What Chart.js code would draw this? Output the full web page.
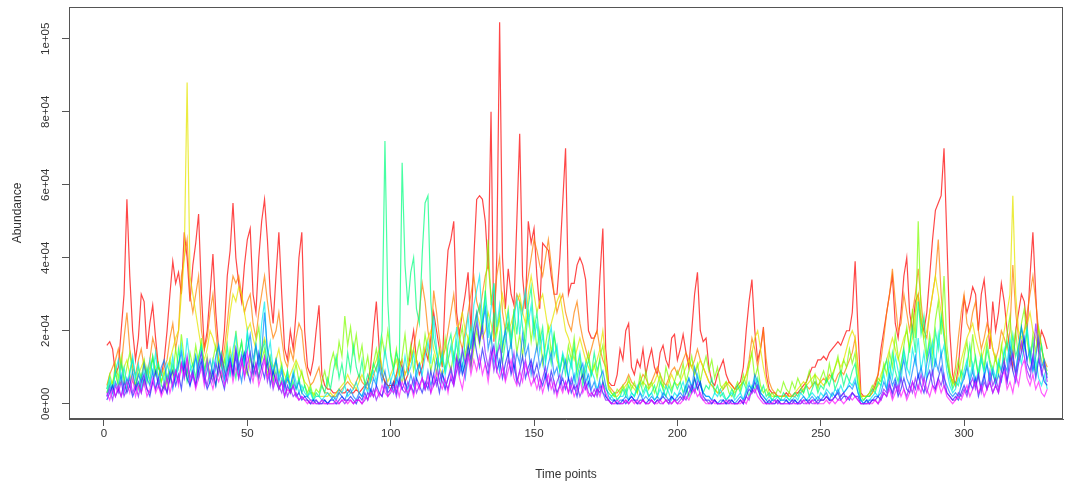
<!DOCTYPE html>
<html><head><meta charset="utf-8">
<style>html,body{margin:0;padding:0;background:#fff}#wrap{width:1073px;height:482px}</style>
<script src="https://cdn.jsdelivr.net/npm/chart.js@4.4.0/dist/chart.umd.min.js"></script>
</head><body><div id="wrap"><canvas id="c" width="1073" height="482"></canvas></div>
<script>
// Abundance values in thousands, time points 1..329
const xTickValues=[0,50,100,150,200,250,300];
const xTickLabels=['0','50','100','150','200','250','300'];
const yTickValues=[0,20,40,60,80,100];
const yTickLabels=['0e+00','2e+04','4e+04','6e+04','8e+04','1e+05'];
const xTitle='Time points';
const yTitle='Abundance';

const red=[
16,17,15,8,10,20,30,56,35,20, 12,18,30,28,15,22,27,18,10,8, 12,20,30,39,33,36,30,47,40,28,
38,44,52,30,15,20,30,41,25,15, 12,20,35,42,55,40,33,28,38,45, 48,30,25,40,50,56,45,30,22,35,
47,30,15,12,20,15,25,40,47,20, 10,8,12,20,27,8,5,4,4,3, 3,4,3,3,4,3,3,4,3,4,
5,6,10,20,28,15,8,6,5,5, 5,8,12,10,6,8,15,20,12,8, 10,15,12,18,25,20,15,10,30,42,
45,50,25,19,25,30,36,20,40,56, 57,56,50,37,80,17,40,104.5,40,26, 37,30,27,50,74,35,26,50,44,48,
35,26,44,43,42,35,30,30,40,55, 70,30,33,33,38,40,38,34,20,18, 18,20,35,48,15,6,5,5,8,15,
12,20,22,10,8,12,10,15,8,12, 15,10,8,14,16,12,10,18,19,12, 15,19,14,10,20,30,36,20,17,18,
10,6,5,8,10,12,8,6,5,4, 5,6,10,20,28,34,20,12,15,21, 8,4,3,3,2,2,2,3,2,2,
3,3,4,5,6,8,10,10,12,12, 13,12,14,15,16,17,16,18,20,20, 25,39,20,3,2,2,2,3,5,8,
15,20,25,30,35,22,18,25,35,40, 25,20,28,30,22,20,25,35,45,53, 55,57,70,45,20,8,5,10,20,29,
25,28,32,30,20,30,34,25,15,28, 20,25,33,28,20,15,10,20,25,30, 28,20,35,47,30,15,20,18,15];
const orange=[
5,8,10,12,15,10,18,25,15,10, 8,12,15,10,8,12,18,15,10,8, 10,12,18,22,15,20,35,40,45,30,
25,30,35,20,15,18,25,30,20,12, 10,15,22,30,35,33,35,30,25,28, 30,22,18,25,30,35,28,22,18,20,
25,18,12,10,15,12,18,22,20,12, 8,5,6,8,10,5,3,3,2,2, 2,3,4,5,6,5,4,6,8,6,
5,4,6,8,10,12,8,6,5,4, 6,8,10,12,8,10,12,15,20,25, 33,28,20,15,31,25,18,12,15,20,
25,30,22,18,15,20,25,30,35,28, 25,30,35,38,30,25,35,40,25,20, 22,18,25,30,28,25,30,35,40,45,
42,38,35,40,45,38,30,25,28,30, 25,22,20,25,28,22,18,15,12,15, 18,20,15,12,10,5,4,3,3,4,
5,6,8,6,5,4,6,8,7,5, 6,8,10,8,6,5,7,9,10,8, 10,12,14,12,10,12,15,12,10,8,
6,5,4,3,3,4,5,6,5,4, 4,5,6,8,12,18,15,10,15,20, 12,6,4,3,2,2,2,2,3,2,
2,3,3,4,5,4,5,6,5,6, 7,6,8,7,6,8,9,8,10,12, 14,18,10,2,2,2,3,4,6,8,
12,18,25,30,37,28,20,22,30,25, 20,25,30,37,28,20,18,25,30,35, 45,30,20,12,8,6,10,18,25,30,
22,20,25,28,20,15,18,22,20,15, 12,15,20,18,15,20,38,25,18,15, 20,25,30,35,28,20,15,12,10];
const yellow=[
3,5,6,8,5,6,10,12,8,6, 5,8,10,12,8,10,12,10,8,6, 8,10,12,15,18,20,30,40,88,35,
30,25,20,15,12,15,20,18,15,12, 10,12,18,25,30,28,32,30,25,20, 22,18,15,12,15,18,15,12,10,12,
15,10,8,6,8,10,12,10,8,6, 5,3,3,2,2,2,2,2,3,2, 3,4,5,6,8,6,5,4,6,8,
6,5,8,10,12,15,10,8,6,8, 10,12,8,6,8,10,12,15,12,10, 12,15,18,20,15,12,10,8,10,12,
15,18,20,22,25,20,18,15,20,25, 22,18,20,25,22,18,20,25,30,25, 20,22,25,28,30,25,22,30,35,30,
25,28,30,25,20,22,25,28,30,25, 20,18,15,12,15,18,15,12,10,8, 10,12,15,20,12,5,3,2,2,3,
4,5,6,5,4,3,5,6,5,4, 5,6,8,6,5,4,6,8,6,5, 6,8,10,12,10,8,10,12,10,8,
6,5,4,3,4,5,6,5,4,3, 4,5,6,8,10,14,18,20,15,10, 6,3,2,2,2,2,2,2,2,2,
3,4,5,6,5,6,7,8,7,6, 5,6,7,8,10,12,10,12,15,18, 20,18,10,2,2,2,2,3,4,5,
8,10,12,15,18,15,12,15,18,20, 15,18,25,30,22,18,20,25,30,35, 30,25,20,12,8,6,5,8,12,15,
18,20,22,18,15,12,15,18,20,15, 12,10,15,20,25,30,57,30,20,18, 20,22,25,20,18,15,12,10,8];
const chartreuse=[
4,8,5,11,7,13,6,10,14,8, 5,10,7,12,6,9,13,8,11,6, 9,5,12,8,15,10,19,12,8,14,
10,16,11,18,9,13,7,12,16,10, 7,12,9,15,11,20,13,17,10,8, 13,9,17,21,12,15,8,11,6,12,
8,11,5,9,4,7,11,6,9,5, 3,5,2,4,3,6,9,5,11,14, 10,17,13,24,16,21,14,19,12,16,
9,13,7,11,15,10,18,13,20,14, 10,15,8,13,19,11,16,9,13,17, 12,19,14,9,13,8,15,11,18,12,
9,14,11,17,21,13,18,10,15,20, 16,24,30,45,27,33,19,24,14,21, 26,17,22,14,19,13,21,25,17,23,
15,20,11,16,21,14,19,12,9,13, 10,16,12,18,9,13,7,11,14,8, 11,7,13,16,9,4,3,2,4,3,
5,3,7,4,6,3,8,5,9,4, 6,3,5,8,4,10,7,4,6,9, 7,11,6,9,13,8,11,6,10,13,
9,12,7,10,5,4,6,3,2,4, 6,4,8,5,11,14,7,10,5,3, 4,2,3,2,4,3,6,4,3,6,
4,7,5,3,6,9,5,8,4,7, 9,6,11,7,10,13,8,12,10,15, 11,14,6,2,1,2,3,5,4,7,
6,11,8,14,10,19,13,9,16,21, 14,26,18,50,24,17,12,19,14,23, 28,19,35,16,9,5,8,12,7,13,
17,10,19,12,8,14,10,17,12,9, 13,8,16,11,19,24,14,20,12,22, 26,17,12,19,14,21,16,11,9];
const green=[
3,6,4,9,5,11,7,4,9,12, 7,4,8,5,10,6,13,8,11,5, 4,8,6,11,7,15,9,12,6,9,
11,7,13,16,9,12,6,8,5,11, 14,9,16,8,11,7,13,17,11,19, 13,8,11,7,14,17,10,13,6,9,
4,7,5,9,3,6,4,7,3,5, 2,4,1,3,2,5,3,7,4,9, 13,7,11,6,14,9,16,10,7,12,
5,8,6,11,9,14,20,72,28,13, 9,14,11,66,38,27,36,40,26,22, 41,55,57,28,18,14,10,13,9,16,
19,12,17,10,14,9,15,21,16,24, 27,19,31,22,17,25,13,19,11,17, 22,15,26,19,28,21,16,27,32,20,
25,17,21,12,16,11,19,14,9,13, 8,13,10,16,7,11,5,9,12,8, 14,9,12,6,4,3,2,3,1,2,
4,2,5,3,2,4,6,3,5,2, 3,5,2,6,4,2,5,3,6,4, 6,3,5,2,4,7,4,6,3,5,
4,7,3,5,2,3,1,2,4,2, 5,3,6,4,2,5,4,7,3,5, 2,3,1,2,2,1,3,2,1,2,
3,2,4,3,5,2,4,6,3,5, 4,7,5,8,4,6,9,5,8,6, 9,11,5,1,1,2,2,4,3,6,
5,9,12,7,14,9,6,11,15,10, 16,21,14,28,19,24,13,17,11,20, 15,24,18,12,7,4,6,5,9,7,
11,16,9,13,7,12,9,15,11,8, 6,11,9,14,17,12,19,13,16,21, 15,20,12,17,9,13,16,10,8];
const cyan=[
4,7,3,9,12,6,10,5,8,13, 7,11,4,9,6,12,8,14,5,9, 6,11,8,13,7,10,16,9,18,11,
7,13,9,15,8,11,6,12,9,16, 10,6,13,8,15,19,9,14,11,20, 14,9,16,11,22,28,13,17,9,12,
7,10,5,8,4,9,6,3,5,3, 2,3,1,2,2,1,2,3,2,1, 2,4,3,5,2,3,4,6,3,2,
5,3,7,9,6,12,8,15,10,6, 9,5,11,7,13,8,10,14,7,11, 8,13,17,11,24,15,10,14,8,12,
16,10,21,14,9,18,24,15,27,31, 35,22,28,18,26,33,21,27,16,20, 25,17,23,29,19,26,31,22,27,18,
22,14,19,11,17,21,13,16,9,14, 11,7,12,6,10,14,8,11,5,9, 7,4,6,3,2,1,2,1,1,2,
2,4,1,3,2,5,3,2,4,2, 3,1,2,4,2,5,3,1,3,2, 4,6,3,7,5,4,8,5,3,2,
2,1,3,2,4,2,1,2,3,1, 2,3,1,4,6,3,7,5,3,2, 1,2,1,1,2,1,1,2,1,1,
2,1,3,2,1,2,3,2,1,3, 2,4,3,2,4,3,5,3,4,6, 5,7,3,1,0,1,1,2,3,2,
5,8,4,11,7,13,9,6,14,10, 8,15,11,18,9,14,7,12,17,10, 19,13,16,9,5,3,4,7,5,9,
12,7,11,6,9,13,8,11,6,10, 7,12,9,15,11,18,13,9,14,11, 16,21,13,9,12,7,5,8,4];
const azure=[
2,5,3,6,4,8,3,7,5,9, 4,8,6,11,7,5,9,4,7,10, 12,6,9,4,8,11,14,7,10,5,
9,13,7,11,6,9,12,8,13,16, 11,7,10,13,8,15,10,6,12,15, 19,12,16,10,14,25,15,11,8,12,
6,9,4,7,5,8,4,6,3,2, 2,1,1,1,0,1,1,0,1,2, 1,3,2,1,3,4,2,1,3,2,
4,6,3,7,5,10,6,9,4,6, 3,7,5,10,6,4,8,5,9,11, 7,4,9,5,8,12,6,9,4,7,
9,6,12,8,11,7,13,16,21,25, 17,22,26,15,19,11,14,9,16,20, 13,17,9,14,11,19,13,16,8,12,
16,10,13,7,11,14,8,10,5,9, 12,7,5,8,4,9,11,6,8,4, 6,3,7,9,5,2,1,1,0,1,
1,2,1,2,1,1,3,1,2,1, 2,1,2,1,3,2,1,2,1,2, 3,2,5,7,4,10,7,5,3,2,
2,1,1,0,1,1,0,1,1,0, 1,2,1,3,5,4,8,6,3,2, 1,0,1,1,0,1,1,1,0,1,
1,0,1,2,1,1,2,1,2,1, 2,3,1,3,2,4,2,3,4,5, 4,6,3,1,0,0,1,1,2,2,
3,6,4,8,5,7,4,9,12,7, 5,9,13,7,10,6,11,15,8,12, 9,14,7,5,3,2,3,2,5,7,
10,6,9,5,8,4,7,11,6,9, 5,8,6,11,9,16,12,8,15,21, 17,12,15,9,13,18,10,12,7];
const blue=[
1,3,5,2,4,2,6,3,5,2, 4,6,3,7,4,2,6,9,5,3, 5,3,7,9,5,8,4,11,7,5,
8,5,9,12,7,4,6,9,5,11, 7,4,9,12,8,13,7,11,14,9, 6,11,8,14,10,7,12,5,9,6,
4,6,2,5,3,5,2,3,1,2, 1,0,1,0,0,0,1,0,1,1, 0,1,2,1,1,2,1,0,2,1,
3,1,4,2,5,3,2,6,3,4, 6,3,7,4,6,2,5,3,7,5, 3,6,4,9,5,7,3,8,6,4,
7,5,9,12,8,11,16,12,19,14, 10,15,11,8,13,16,9,12,7,11, 14,8,11,6,9,13,7,10,12,8,
11,7,5,8,4,9,6,3,5,7, 4,7,3,5,2,6,8,4,6,3, 2,4,3,6,2,1,0,1,0,0,
1,0,1,2,1,0,1,1,0,1, 1,0,1,1,2,1,0,2,1,1, 2,1,3,5,3,7,4,6,2,1,
1,0,1,0,0,1,0,0,1,0, 0,1,0,2,4,3,6,4,2,1, 0,1,0,0,1,0,0,1,0,0,
1,0,0,1,1,0,1,1,0,1, 1,2,1,1,2,3,1,2,2,1, 3,2,2,0,0,1,0,1,1,2,
1,3,2,5,3,6,2,4,7,4, 3,6,4,8,5,3,7,9,5,4, 7,10,5,3,2,1,2,1,3,5,
3,6,4,7,2,5,8,4,6,3, 5,3,7,10,6,13,9,6,11,14, 18,11,9,13,7,12,9,6,5];
const violet=[
2,4,1,5,3,6,2,4,7,3, 5,2,6,8,4,3,6,4,7,3, 6,3,8,5,9,6,11,8,13,7,
9,5,11,14,8,5,9,6,11,8, 13,9,6,11,8,15,10,13,7,11, 14,8,11,7,10,13,6,9,4,7,
5,3,6,2,4,2,3,1,2,1, 1,0,0,1,0,0,0,0,0,0, 0,0,1,0,1,1,0,1,1,0,
1,3,2,4,1,3,2,5,2,3, 5,2,6,4,3,6,4,7,3,5, 7,4,6,3,8,5,9,6,4,7,
10,6,13,9,15,11,14,10,18,22, 17,21,14,10,15,9,13,16,11,7, 12,9,14,7,5,9,12,8,11,6,
8,4,7,10,5,7,3,6,8,4, 6,3,7,4,5,2,4,6,3,2, 4,2,5,3,1,1,0,0,0,0,
0,1,0,1,1,0,0,1,0,0, 1,0,1,0,0,1,1,0,1,0, 1,2,1,3,5,3,6,2,1,1,
0,0,1,0,0,0,0,1,0,0, 0,1,0,2,1,4,3,5,2,1, 0,0,0,0,1,0,0,0,0,1,
0,0,1,0,0,1,0,0,1,1, 1,2,1,1,2,1,2,3,1,2, 3,2,1,0,0,0,0,1,1,0,
2,4,3,6,2,5,3,7,4,2, 5,3,7,4,8,5,3,6,9,4, 7,5,8,3,2,1,1,3,2,4,
2,5,7,4,8,3,6,4,9,5, 7,4,9,12,6,10,14,8,12,17, 13,9,7,12,22,14,8,11,6];
const magenta=[
3,1,4,2,5,2,4,6,3,7, 2,5,3,6,2,4,7,3,5,2, 4,7,3,6,9,5,11,7,12,6,
8,4,7,10,5,12,7,4,8,6, 9,5,8,11,6,10,7,12,8,14, 9,6,11,5,8,12,7,10,5,8,
4,6,2,4,3,5,2,1,2,1, 0,1,0,0,0,1,0,0,0,0, 1,0,1,1,0,1,0,1,1,0,
2,1,3,2,4,2,5,3,2,4, 3,5,2,6,4,3,5,2,6,4, 7,4,8,3,5,9,6,4,7,3,
8,5,11,7,4,9,13,8,12,9, 13,8,11,6,12,15,9,7,10,6, 9,12,7,5,9,6,11,8,5,7,
4,7,3,6,8,4,6,2,5,3, 6,3,5,2,4,7,3,5,2,3, 2,4,2,5,3,1,0,0,1,0,
0,1,0,1,0,1,0,1,0,0, 1,0,0,1,0,1,0,0,1,0, 0,1,2,1,3,4,2,3,1,0,
0,1,0,0,0,0,1,0,0,0, 0,0,1,0,2,3,4,2,1,0, 0,0,0,1,0,0,0,0,0,0,
0,0,0,1,0,0,1,0,0,0, 0,1,0,1,0,1,1,0,1,2, 1,2,1,0,0,0,0,0,1,0,
1,3,2,4,1,3,5,2,4,1, 3,6,2,5,3,7,4,2,5,3, 6,3,5,2,1,0,1,2,1,3,
5,2,4,6,3,5,2,4,6,3, 5,3,7,9,4,6,3,8,5,10, 12,7,5,8,4,6,3,2,4];

const seriesNames=['S1','S2','S3','S4','S5','S6','S7','S8','S9','S10'];
const seriesData=[red,orange,yellow,chartreuse,green,cyan,azure,blue,violet,magenta];
const seriesColors=['rgba(255,0,0,0.72)','rgba(255,128,0,0.72)','rgba(230,230,0,0.75)','rgba(128,255,0,0.72)','rgba(0,255,128,0.72)',
  'rgba(0,235,235,0.72)','rgba(0,128,255,0.7)','rgba(0,0,255,0.62)','rgba(128,0,255,0.65)','rgba(255,0,255,0.65)'];

const boxPlugin={id:'box',afterDraw(c){const a=c.chartArea,g=c.ctx;g.save();g.strokeStyle='#555';g.lineWidth=1;
g.strokeRect(Math.round(a.left)+0.5,Math.round(a.top)+0.5,Math.round(a.right-a.left)-1,Math.round(a.bottom-a.top)-1);g.restore();}};

const tickFont={family:'Liberation Sans',size:11.5};
const titleFont={family:'Liberation Sans',size:12};
new Chart(document.getElementById('c'),{
  type:'line',
  data:{datasets:seriesData.map((d,i)=>({label:seriesNames[i],data:d.map((v,j)=>({x:j+1,y:v})),
    borderColor:seriesColors[i],backgroundColor:seriesColors[i],borderWidth:1.2,pointRadius:0,tension:0,fill:false,order:seriesData.length-i}))},
  options:{responsive:false,animation:false,devicePixelRatio:1,
    layout:{padding:{left:0,top:7,right:10,bottom:0}},
    plugins:{legend:{display:false},tooltip:{enabled:false}},
    scales:{
      x:{type:'linear',min:-12.2,max:334.5,
        afterBuildTicks:s=>{s.ticks=xTickValues.map(v=>({value:v}));},
        afterFit:s=>{s.height=63;s.paddingLeft=0;s.paddingRight=0;},
        ticks:{callback:(v,i)=>xTickLabels[i],font:tickFont,color:'#333',padding:1,maxRotation:0,autoSkip:false},
        grid:{display:true,drawOnChartArea:false,drawTicks:true,tickLength:7,color:'#555'},
        border:{display:true,color:'#555'},
        title:{display:true,text:xTitle,font:titleFont,color:'#333',padding:{top:0,bottom:0}}},
      y:{type:'linear',min:-4.18,max:108.7,
        afterBuildTicks:s=>{s.ticks=yTickValues.map(v=>({value:v}));},
        afterFit:s=>{s.width=69;s.paddingTop=0;s.paddingBottom=0;},
        ticks:{callback:(v,i)=>yTickLabels[i],font:tickFont,color:'#333',padding:0,minRotation:90,maxRotation:90,crossAlign:'center',autoSkip:false},
        grid:{display:true,drawOnChartArea:false,drawTicks:true,tickLength:7,color:'#555'},
        border:{display:true,color:'#555'},
        title:{display:true,text:yTitle,font:titleFont,color:'#333',padding:{top:10,bottom:0}}}
    }},
  plugins:[boxPlugin]
});
</script></body></html>
